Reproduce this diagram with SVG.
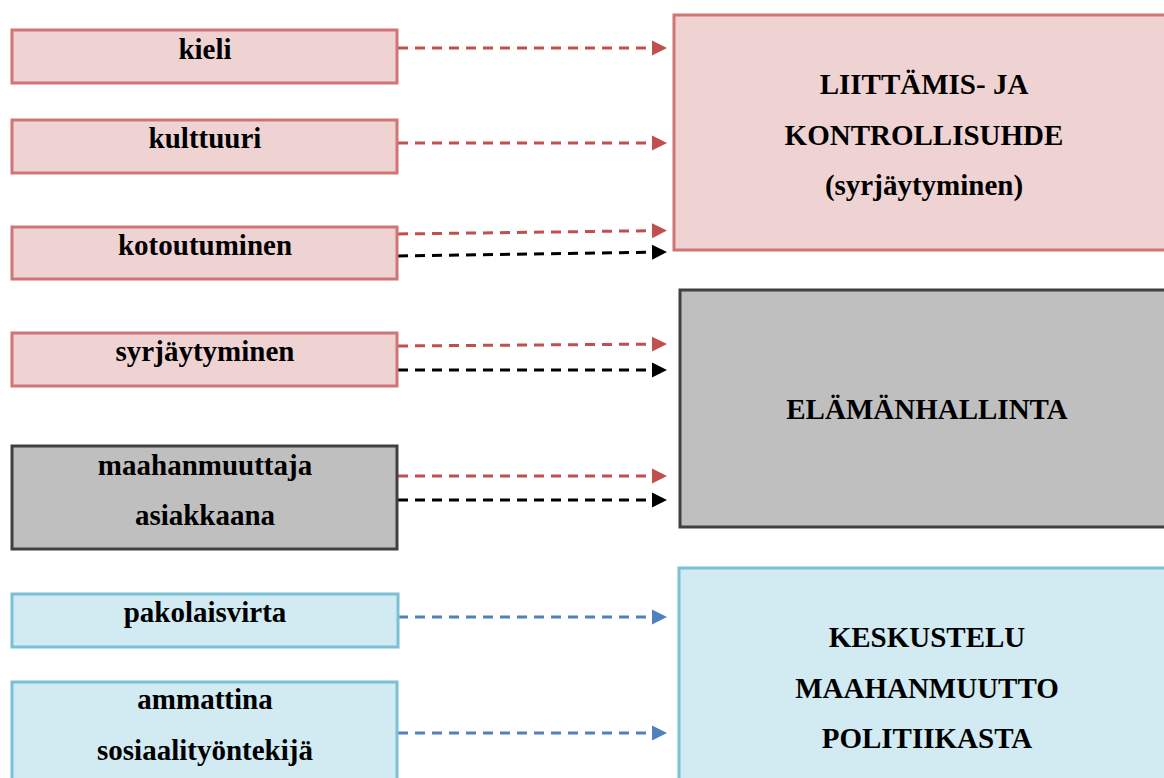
<svg xmlns="http://www.w3.org/2000/svg" width="1164" height="778" viewBox="0 0 1164 778">
<style>
text{font-family:"Liberation Serif","Times New Roman",serif;font-weight:bold;font-size:29px;text-anchor:middle;fill:#000}
.pink{fill:#EFD3D3;stroke:#CF7675;stroke-width:3}
.gray{fill:#BFBFBF;stroke:#404040;stroke-width:3}
.blue{fill:#D2EAF1;stroke:#7BC1D5;stroke-width:3}
.big{font-size:29px}
.c{fill:none;stroke-width:3;stroke-dasharray:10 7}
.r{stroke:#C0504D}
.k{stroke:#000}
.b{stroke:#4F81BD}
</style>
<defs>
<marker id="ar" markerUnits="userSpaceOnUse" markerWidth="16" markerHeight="16" refX="15" refY="8" orient="auto"><path d="M0,0.5 L15,8 L0,15.5 z" fill="#C0504D"/></marker>
<marker id="ak" markerUnits="userSpaceOnUse" markerWidth="16" markerHeight="16" refX="15" refY="8" orient="auto"><path d="M0,0.5 L15,8 L0,15.5 z" fill="#000"/></marker>
<marker id="ab" markerUnits="userSpaceOnUse" markerWidth="16" markerHeight="16" refX="15" refY="8" orient="auto"><path d="M0,0.5 L15,8 L0,15.5 z" fill="#4F81BD"/></marker>
</defs>
<rect width="1164" height="778" fill="#fff"/>
<g id="connectors">
<line class="c r" x1="398" y1="48" x2="667" y2="48" marker-end="url(#ar)"/>
<line class="c r" x1="398" y1="143" x2="667" y2="143" marker-end="url(#ar)"/>
<line class="c r" x1="398" y1="234" x2="667" y2="230.5" marker-end="url(#ar)"/>
<line class="c k" x1="398" y1="256" x2="667" y2="252" marker-end="url(#ak)"/>
<line class="c r" x1="398" y1="346" x2="667" y2="344" marker-end="url(#ar)"/>
<line class="c k" x1="398" y1="370" x2="667" y2="370" marker-end="url(#ak)"/>
<line class="c r" x1="398" y1="476" x2="667" y2="476" marker-end="url(#ar)"/>
<line class="c k" x1="398" y1="500" x2="667" y2="500" marker-end="url(#ak)"/>
<line class="c b" x1="398" y1="617" x2="667" y2="617" marker-end="url(#ab)"/>
<line class="c b" x1="398" y1="733" x2="667" y2="733" marker-end="url(#ab)"/>
</g>
<g id="kieli"><rect class="pink" x="12" y="30" width="385" height="53"/><text x="205" y="59">kieli</text></g>
<g id="kulttuuri"><rect class="pink" x="12" y="120" width="385" height="53"/><text x="205" y="148">kulttuuri</text></g>
<g id="kotoutuminen"><rect class="pink" x="12" y="227" width="385" height="52"/><text x="205" y="255">kotoutuminen</text></g>
<g id="syrjaytyminen"><rect class="pink" x="12" y="333" width="385" height="53"/><text x="205" y="361">syrjäytyminen</text></g>
<g id="maahanmuuttaja"><rect class="gray" x="12" y="446" width="385" height="103"/><text x="205" y="475">maahanmuuttaja</text><text x="205" y="525">asiakkaana</text></g>
<g id="pakolaisvirta"><rect class="blue" x="12" y="594" width="386" height="53"/><text x="205" y="622">pakolaisvirta</text></g>
<g id="ammattina"><rect class="blue" x="12" y="682" width="385" height="110"/><text x="205" y="709">ammattina</text><text x="205" y="760">sosiaalityöntekijä</text></g>
<g id="liittamis"><rect class="pink" x="674" y="15" width="510" height="235"/><text x="924" y="94">LIITTÄMIS- JA</text><text x="924" y="145">KONTROLLISUHDE</text><text x="924" y="195">(syrjäytyminen)</text></g>
<g id="elamanhallinta"><rect class="gray" x="680" y="290" width="504" height="237"/><text x="927" y="419">ELÄMÄNHALLINTA</text></g>
<g id="keskustelu"><rect class="blue" x="679" y="568" width="505" height="230"/><text x="927" y="647">KESKUSTELU</text><text x="927" y="698">MAAHANMUUTTO</text><text x="927" y="748">POLITIIKASTA</text></g>
</svg>
